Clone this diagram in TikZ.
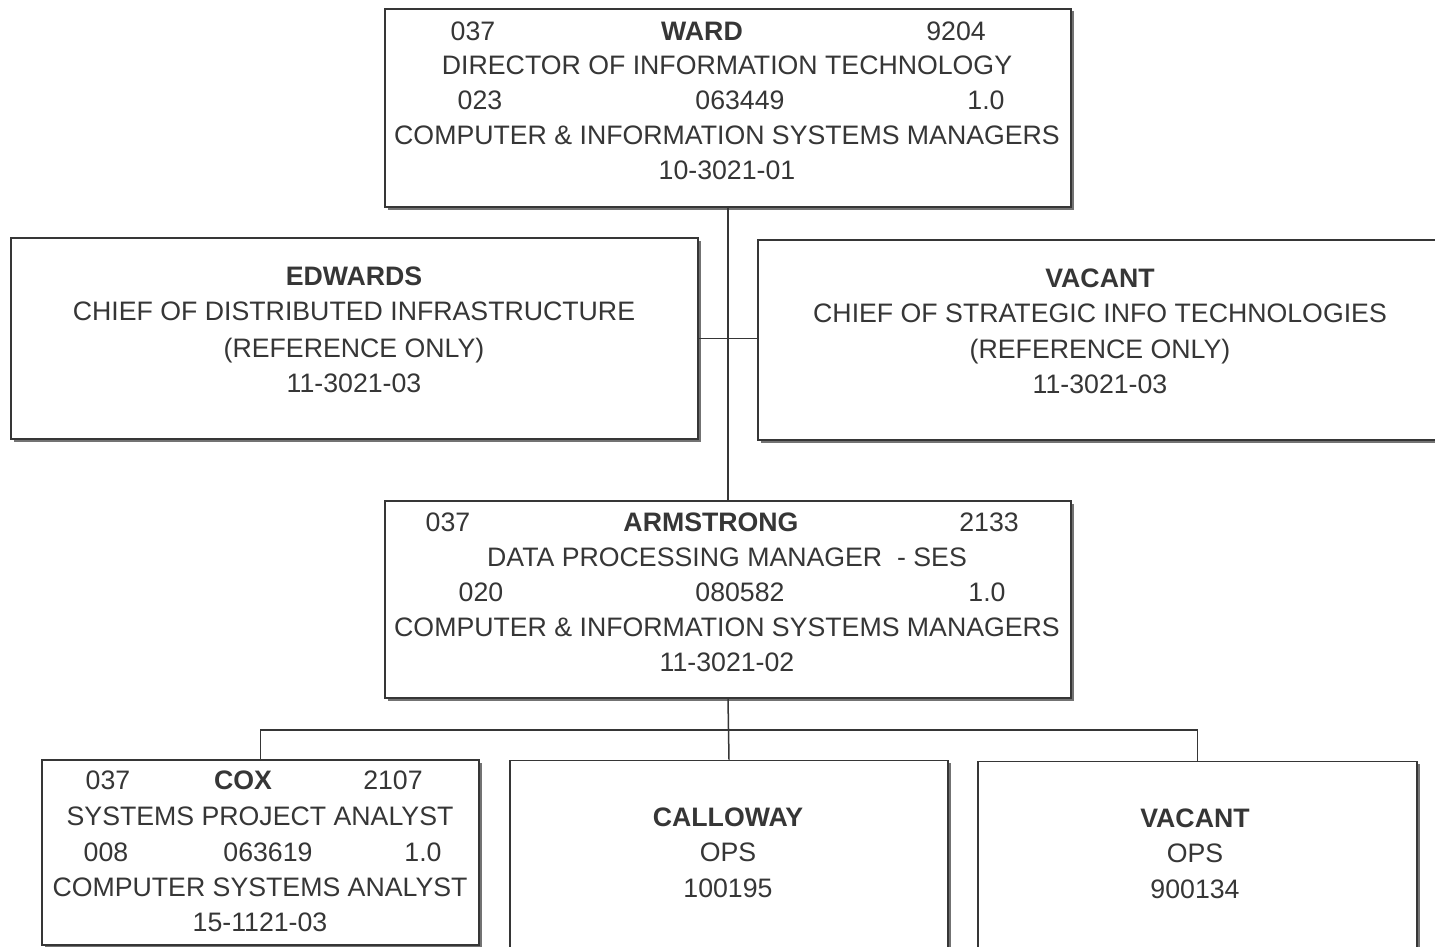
\documentclass[tikz,border=0pt]{standalone}
\usepackage{fontspec}
\setmainfont{Liberation Sans}
\usetikzlibrary{shadows}
\definecolor{ink}{HTML}{363636}
\begin{document}
\begin{tikzpicture}[x=1pt,y=-1pt,
  box/.style={draw=ink, line width=1.6pt, fill=white, inner sep=0pt,
    drop shadow={shadow xshift=2.5pt, shadow yshift=-2.5pt, fill=black!55, opacity=1}},
  txt/.style={inner sep=0pt, text height=19pt, text depth=0pt, text=ink,
    font=\fontsize{26.7}{30}\selectfont},
  bold/.style={txt, font=\fontsize{26.7}{30}\selectfont\bfseries},
  link/.style={draw=ink, line width=1.5pt}]
\clip (0,0) rectangle (1435,947);
\fill[white] (0,0) rectangle (1435,947);

% boxes
\node[box, minimum width=686pt, minimum height=198pt] (ward) at (728,108) {};
\node[box, minimum width=687pt, minimum height=201pt] (edwards) at (354.5,338.5) {};
\node[box, minimum width=684pt, minimum height=200pt] (vacant1) at (1100,340) {};
\node[box, minimum width=686pt, minimum height=197pt] (armstrong) at (728,599.5) {};
\node[box, minimum width=437pt, minimum height=185pt] (cox) at (260.5,852.5) {};
\node[box, minimum width=438pt, minimum height=187pt] (calloway) at (729,854) {};
\node[box, minimum width=439pt, minimum height=186pt] (vacant2) at (1197.5,854.5) {};

% connectors
\coordinate (bus) at (728,730);
\draw[link] (ward.south) -- (armstrong.north);
\draw[link] (edwards.east) -- (edwards.east -| vacant1.west);
\draw[link] (armstrong.south) -- (calloway.north);
\draw[link] (cox.north) |- (bus) -| (vacant2.north);

% WARD
\node[txt]  (w1a) at (473,31)  {037};
\node[bold] (w1b) at (702,31)  {WARD};
\node[txt]  (w1c) at (956,31)  {9204};
\node[txt]  (w2)  at (727,65)  {DIRECTOR OF INFORMATION TECHNOLOGY};
\node[txt]  (w3a) at (480,100) {023};
\node[txt]  (w3b) at (740,100) {063449};
\node[txt]  (w3c) at (986,100) {1.0};
\node[txt]  (w4)  at (727,135) {COMPUTER \& INFORMATION SYSTEMS MANAGERS};
\node[txt]  (w5)  at (727,170) {10-3021-01};

% EDWARDS
\node[bold] (e1) at (354,276) {EDWARDS};
\node[txt]  (e2) at (354,311) {CHIEF OF DISTRIBUTED INFRASTRUCTURE};
\node[txt]  (e3) at (354,348) {(REFERENCE ONLY)};
\node[txt]  (e4) at (354,383) {11-3021-03};

% VACANT (strategic)
\node[bold] (v1) at (1100,278) {VACANT};
\node[txt]  (v2) at (1100,313) {CHIEF OF STRATEGIC INFO TECHNOLOGIES};
\node[txt]  (v3) at (1100,349) {(REFERENCE ONLY)};
\node[txt]  (v4) at (1100,384) {11-3021-03};

% ARMSTRONG
\node[txt]  (a1a) at (448,522) {037};
\node[bold] (a1b) at (711,522) {ARMSTRONG};
\node[txt]  (a1c) at (989,522) {2133};
\node[txt]  (a2)  at (727,557) {DATA PROCESSING MANAGER\ \ - SES};
\node[txt]  (a3a) at (481,592) {020};
\node[txt]  (a3b) at (740,592) {080582};
\node[txt]  (a3c) at (987,592) {1.0};
\node[txt]  (a4)  at (727,627) {COMPUTER \& INFORMATION SYSTEMS MANAGERS};
\node[txt]  (a5)  at (727,662) {11-3021-02};

% COX
\node[txt]  (c1a) at (108,780) {037};
\node[bold] (c1b) at (243,780) {COX};
\node[txt]  (c1c) at (393,780) {2107};
\node[txt]  (c2)  at (260,816) {SYSTEMS PROJECT ANALYST};
\node[txt]  (c3a) at (106,852) {008};
\node[txt]  (c3b) at (268,852) {063619};
\node[txt]  (c3c) at (423,852) {1.0};
\node[txt]  (c4)  at (260,887) {COMPUTER SYSTEMS ANALYST};
\node[txt]  (c5)  at (260,922) {15-1121-03};

% CALLOWAY
\node[bold] (k1) at (728,817) {CALLOWAY};
\node[txt]  (k2) at (728,852) {OPS};
\node[txt]  (k3) at (728,888) {100195};

% VACANT (OPS)
\node[bold] (o1) at (1195,818) {VACANT};
\node[txt]  (o2) at (1195,853) {OPS};
\node[txt]  (o3) at (1195,889) {900134};
\end{tikzpicture}
\end{document}
